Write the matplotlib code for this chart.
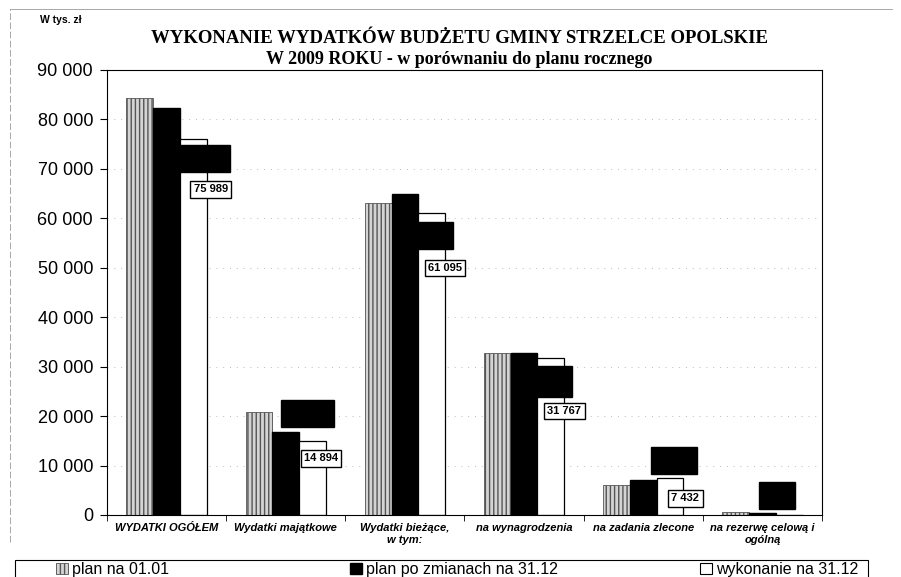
import matplotlib
matplotlib.use('Agg')
import matplotlib.pyplot as plt
import matplotlib.ticker as mticker
from matplotlib.patches import Patch, Rectangle
from matplotlib.lines import Line2D
import numpy as np

plt.rcParams['font.family'] = ['Liberation Sans', 'DejaVu Sans']

kategorie = ['WYDATKI OGÓŁEM', 'Wydatki majątkowe', 'Wydatki bieżące,\nw tym:',
             'na wynagrodzenia', 'na zadania zlecone', 'na rezerwę celową i\nogólną']
plan_0101 = [84400, 20800, 63100, 32800, 6100, 600]
plan_zmiany = [82400, 16800, 64900, 32700, 7100, 500]
wykonanie = [75989, 14894, 61095, 31767, 7432, 0]

seria_nazwy = ['plan na 01.01', 'plan po zmianach na 31.12', 'wykonanie na 31.12']

# przesuniecia etykiet (px) - dopasowane recznie do oryginalu
off_biale = [(4, -50), (-5, -17), (0, -55), (0, -53), (2, -20)]
off_czarne = [(37, -51), (22, 18), (21, -41), (19, -28), (31, 19), (15, 17)]
pad_czarne = [0.6, 0.6, 0.6, 0.75, 0.6, 0.6]


def fmt(v):
    return f'{int(round(v)):,}'.replace(',', ' ')


fig = plt.figure(figsize=(9.01, 5.77), dpi=100)
ax = fig.add_axes([107 / 901, 0.1075, 715 / 901, 0.7712])

x = np.arange(len(kategorie))
w = 0.225

ax.bar(x - w, plan_0101, w, color='#d4d4d4', edgecolor='#555555', hatch='||||',
       linewidth=0.6, zorder=2)
ax.bar(x, plan_zmiany, w, color='black', edgecolor='black', zorder=2)
ax.bar(x + w, wykonanie, w, color='white', edgecolor='black', linewidth=0.9, zorder=2)

px = 0.72  # px -> pt

# etykiety czarnej serii (zaczernione w oryginale)
for i, v in enumerate(plan_zmiany):
    dx, dy = off_czarne[i]
    ax.annotate(fmt(v), (x[i], v), xytext=(dx * px, dy * px), textcoords='offset points',
                ha='center', va='center', fontsize=9, fontweight='bold', color='black',
                bbox=dict(boxstyle=f'square,pad={pad_czarne[i]}', fc='black', ec='black'),
                zorder=4)

# etykiety wykonania
for i, v in enumerate(wykonanie[:5]):
    dx, dy = off_biale[i]
    xb = x[i] + 1.5 * w
    ax.annotate(fmt(v), (xb, v), xytext=(dx * px, dy * px), textcoords='offset points',
                ha='center', va='center', fontsize=8, fontweight='bold', color='black',
                bbox=dict(boxstyle='square,pad=0.3', fc='white', ec='black', lw=1.0), zorder=5)

ax.set_xlim(-0.5, len(kategorie) - 0.5)
ax.set_ylim(0, 90000)
ax.yaxis.set_major_locator(mticker.MultipleLocator(10000))
ax.yaxis.set_major_formatter(mticker.FuncFormatter(lambda v, p: fmt(v)))
ax.tick_params(axis='y', labelsize=13, direction='out', length=5, pad=5)
ax.set_xticks(x)
ax.set_xticklabels(kategorie, fontsize=8, fontstyle='italic', fontweight='bold')
ax.set_xticks(np.arange(len(kategorie) + 1) - 0.5, minor=True)
ax.tick_params(axis='x', which='major', length=0, pad=6)
ax.tick_params(axis='x', which='minor', length=4, direction='out')
for s in ax.spines.values():
    s.set_linewidth(0.8)
ax.grid(axis='y', color='#bbbbbb', linestyle=(0, (1, 6)), linewidth=0.7, zorder=0)
ax.set_axisbelow(True)

fig.text(0.044, 0.965, 'W tys. zł', fontsize=7.5, fontweight='bold', ha='left', va='center')
fig.text(0.51, 0.934, 'WYKONANIE WYDATKÓW BUDŻETU GMINY STRZELCE OPOLSKIE',
         family='Liberation Serif', fontsize=13.5, fontweight='bold', ha='center', va='center')
fig.text(0.51, 0.897, 'W 2009 ROKU - w porównaniu do planu rocznego',
         family='Liberation Serif', fontsize=13, fontweight='bold', ha='center', va='center')

# linie ramki ze skanu (gora i lewa)
fig.add_artist(Line2D([0.011, 0.99], [0.985, 0.985], transform=fig.transFigure,
                      color='#999999', lw=0.6))
fig.add_artist(Line2D([0.011, 0.011], [0.06, 0.985], transform=fig.transFigure,
                      color='#999999', lw=0.6, ls=(0, (8, 3))))

# legenda - ramka i trzy wpisy
fig.add_artist(Rectangle((15 / 901, -0.01), 853 / 901, 0.039, transform=fig.transFigure,
                         fill=False, ec='black', lw=0.8))
uchwyty = [Patch(fc='#d4d4d4', ec='#555555', hatch='||||', lw=0.6),
           Patch(fc='black', ec='black'),
           Patch(fc='white', ec='black', lw=0.8)]
pozycje = [56 / 901, 350 / 901, 700 / 901]
for h, n, xp in zip(uchwyty, seria_nazwy, pozycje):
    lg = fig.legend([h], [n], loc='center left', bbox_to_anchor=(xp, 0.013),
                    fontsize=11.5, frameon=False, handlelength=0.75, handleheight=0.75,
                    handletextpad=0.25, borderpad=0.0, borderaxespad=0.0)

fig.savefig('out.png', dpi=100)
